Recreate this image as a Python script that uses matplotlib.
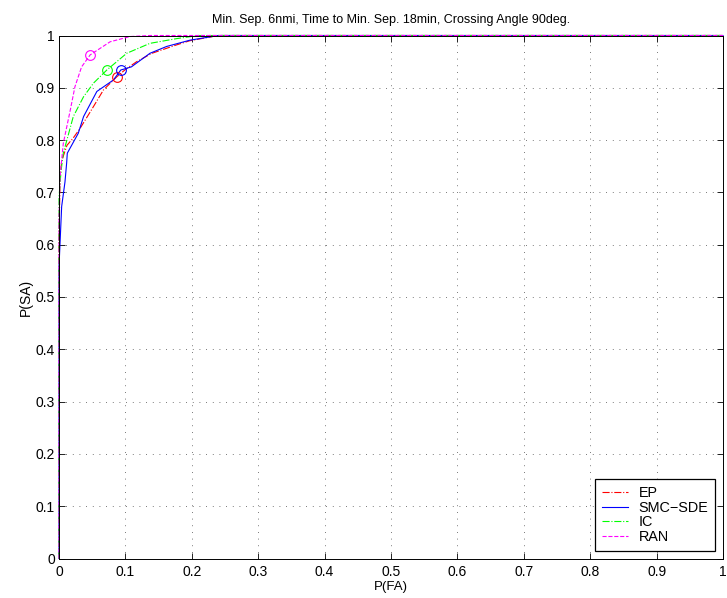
import matplotlib
matplotlib.use("Agg")
import matplotlib.pyplot as plt
import numpy as np

plt.rcParams['font.family'] = ['Liberation Sans', 'DejaVu Sans']

title = "Min. Sep. 6nmi, Time to Min. Sep. 18min, Crossing Angle 90deg."
xlabel = "P(FA)"
ylabel = "P(SA)"
ticks = [0, 0.1, 0.2, 0.3, 0.4, 0.5, 0.6, 0.7, 0.8, 0.9, 1]
tick_labels = ["0", "0.1", "0.2", "0.3", "0.4", "0.5", "0.6", "0.7", "0.8", "0.9", "1"]

# EP
ep_x = [0, 0, 0.0015, 0.004, 0.012, 0.022, 0.032, 0.049, 0.067, 0.087, 0.100, 0.117, 0.140, 0.177, 0.197, 0.240, 1.0]
ep_y = [0, 0.60, 0.724, 0.76, 0.79, 0.805, 0.823, 0.858, 0.896, 0.921, 0.935, 0.950, 0.966, 0.982, 0.990, 1.0, 1.0]
ep_op = (0.087, 0.921)

# SMC-SDE
smc_x = [0, 0, 0.004, 0.009, 0.0115, 0.0125, 0.029, 0.037, 0.057, 0.082, 0.093, 0.109, 0.137, 0.162, 0.197, 0.240, 1.0]
smc_y = [0, 0.558, 0.673, 0.72, 0.756, 0.775, 0.813, 0.845, 0.893, 0.915, 0.934, 0.940, 0.966, 0.979, 0.991, 1.0, 1.0]
smc_op = (0.093, 0.934)

# IC
ic_x = [0, 0, 0.003, 0.0065, 0.0215, 0.037, 0.052, 0.072, 0.102, 0.137, 0.177, 0.210, 1.0]
ic_y = [0, 0.69, 0.74, 0.775, 0.845, 0.883, 0.909, 0.934, 0.966, 0.985, 0.994, 1.0, 1.0]
ic_op = (0.072, 0.934)

# RAN
ran_x = [0, 0, 0.0015, 0.0065, 0.0166, 0.024, 0.034, 0.047, 0.077, 0.107, 0.137, 1.0]
ran_y = [0, 0.65, 0.73, 0.794, 0.855, 0.902, 0.94, 0.963, 0.988, 0.998, 1.0, 1.0]
ran_op = (0.047, 0.963)

fig = plt.figure(figsize=(7.27, 5.98), dpi=100)
ax = fig.add_axes([59/727, 1 - 558.5/598, 664/727, 523/598])

lw = 0.8
ax.plot(ep_x, ep_y, color=(1, 0, 0), linestyle='-.', lw=lw, label='EP', clip_on=False)
ax.plot(smc_x, smc_y, color=(0, 0, 1), linestyle='-', lw=lw, label='SMC\u2212SDE', clip_on=False)
ax.plot(ic_x, ic_y, color=(0, 1, 0), linestyle='-.', lw=lw, label='IC', clip_on=False)
ax.plot(ran_x, ran_y, color=(1, 0, 1), linestyle='--', lw=lw, label='RAN', clip_on=False)

ax.plot([ep_op[0]], [ep_op[1]], 'o', mfc='none', mec=(1, 0, 0), ms=7, mew=0.8)
ax.plot([smc_op[0]], [smc_op[1]], 'o', mfc='none', mec=(0, 0, 1), ms=7, mew=0.8)
ax.plot([ic_op[0]], [ic_op[1]], 'o', mfc='none', mec=(0, 1, 0), ms=7, mew=0.8)
ax.plot([ran_op[0]], [ran_op[1]], 'o', mfc='none', mec=(1, 0, 1), ms=7, mew=0.8)

ax.set_xlim(0, 1)
ax.set_ylim(0, 1)
ax.set_xticks(ticks)
ax.set_xticklabels(tick_labels)
ax.set_yticks(ticks)
ax.set_yticklabels(tick_labels)
ax.tick_params(direction='in', top=True, right=True, length=4, width=0.6, labelsize=10)
ax.tick_params(axis='x', pad=5)
ax.tick_params(axis='y', pad=3)
ax.grid(True, linestyle=(0, (1, 7)), color='black', linewidth=0.6, alpha=0.7)
for s in ax.spines.values():
    s.set_linewidth(0.7)

ax.set_title(title, fontsize=9, pad=9)
ax.set_xlabel(xlabel, fontsize=9.5, labelpad=1)
ax.set_ylabel(ylabel, fontsize=10, labelpad=2)

leg = ax.legend(loc='lower right', fontsize=10.4, frameon=True, fancybox=False,
                edgecolor='black', framealpha=1, borderaxespad=0.55,
                handlelength=1.8, handletextpad=0.75, labelspacing=0.05, borderpad=0.45)
leg.get_frame().set_linewidth(0.9)

fig.savefig("out.png", dpi=100)
